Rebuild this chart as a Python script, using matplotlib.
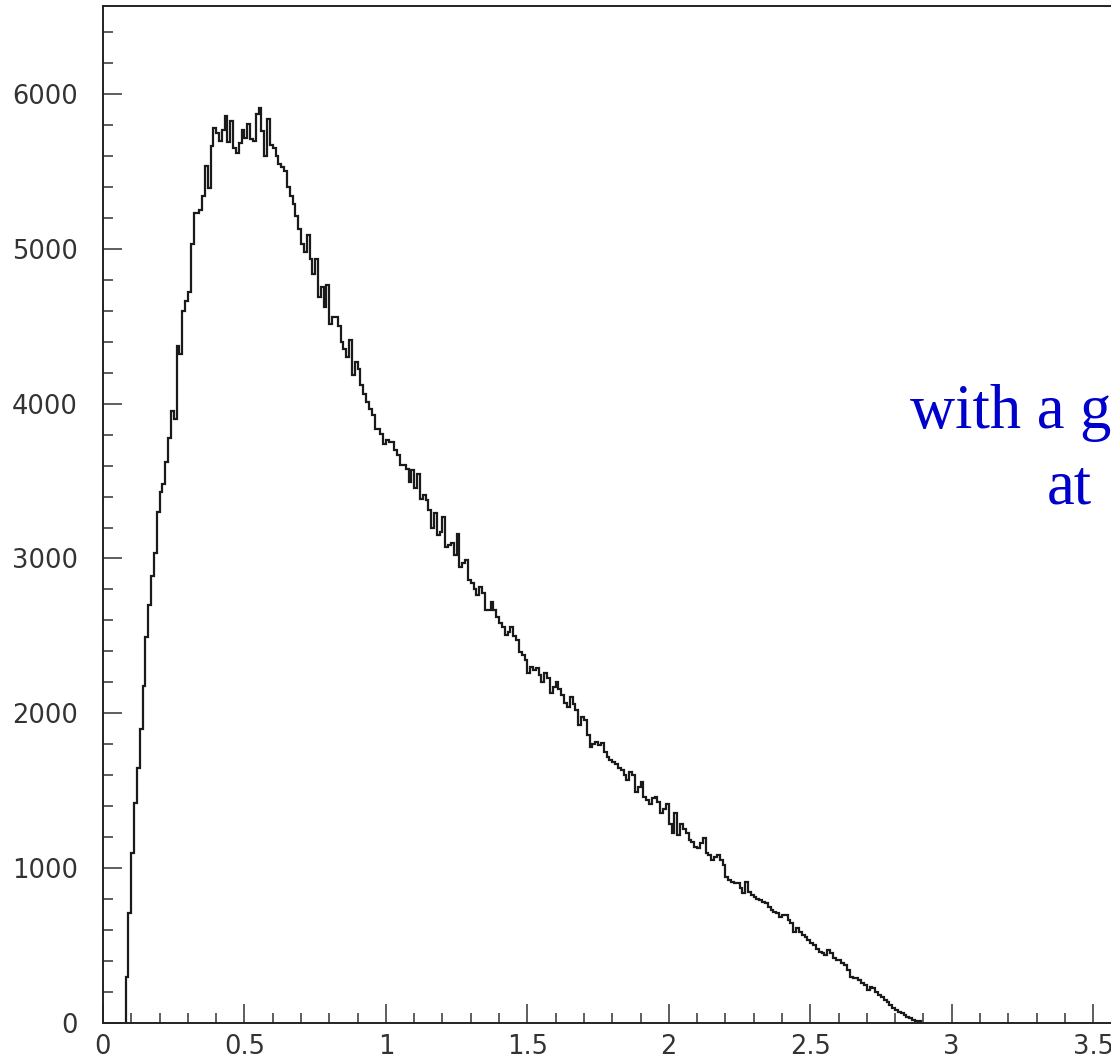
import matplotlib

matplotlib.use("Agg")
import matplotlib.pyplot as plt
import numpy as np
from matplotlib.ticker import MultipleLocator

# histogram: bins of width 0.01 starting at 0.08
bin_lo = 0.08
bin_width = 0.01
counts = [
    300, 713, 1100, 1418, 1650, 1900, 2175, 2490, 2700, 2890,
    3036, 3300, 3430, 3480, 3620, 3780, 3950, 3900, 4370, 4320,
    4600, 4665, 4720, 5030, 5230, 5230, 5250, 5340, 5535, 5395,
    5665, 5783, 5750, 5697, 5770, 5858, 5690, 5827, 5654, 5621,
    5680, 5770, 5718, 5806, 5710, 5697, 5870, 5912, 5761, 5600,
    5836, 5670, 5654, 5600, 5548, 5525, 5505, 5400, 5342, 5290,
    5215, 5130, 5032, 4978, 5086, 4935, 4839, 4935, 4688, 4752,
    4624, 4763, 4516, 4559, 4559, 4500, 4400, 4355, 4301, 4409,
    4183, 4269, 4226, 4118, 4060, 4011, 3968, 3925, 3839, 3839,
    3806, 3742, 3763, 3753, 3753, 3699, 3667, 3602, 3602, 3581,
    3495, 3570, 3452, 3548, 3387, 3409, 3380, 3312, 3200, 3293,
    3150, 3170, 3266, 3075, 3085, 3097, 3022, 3161, 2946, 2970,
    2989, 2860, 2839, 2800, 2763, 2817, 2780, 2667, 2667, 2720,
    2667, 2620, 2581, 2559, 2505, 2527, 2559, 2500, 2473, 2398,
    2376, 2344, 2258, 2301, 2280, 2290, 2250, 2204, 2258, 2226,
    2129, 2172, 2204, 2160, 2118, 2065, 2043, 2108, 2060, 2022,
    1925, 1978, 1957, 1860, 1785, 1800, 1817, 1796, 1806, 1753,
    1720, 1699, 1688, 1670, 1650, 1632, 1600, 1568, 1622, 1600,
    1490, 1525, 1557, 1460, 1440, 1417, 1450, 1460, 1428, 1353,
    1380, 1417, 1288, 1224, 1353, 1213, 1288, 1250, 1224, 1181,
    1170, 1138, 1127, 1160, 1192, 1095, 1084, 1052, 1073, 1084,
    1050, 1019, 944, 922, 912, 901, 901, 870, 837, 912,
    848, 826, 815, 800, 794, 783, 772, 751, 729, 718,
    708, 686, 697, 697, 665, 643, 589, 611, 589, 570,
    557, 536, 514, 503, 481, 460, 449, 438, 470, 449,
    417, 406, 406, 390, 374, 342, 299, 288, 288, 277,
    260, 245, 213, 235, 224, 202, 181, 165, 150, 138,
    116, 95, 84, 70, 63, 52, 41, 30, 20, 12,
    10,
]

label_lines = ["with a g", "at"]

W, H = 1111, 1060
fig = plt.figure(figsize=(W / 100, H / 100), dpi=100)
fig.patch.set_facecolor("white")

# axes run past the right edge of the picture, as in the reference crop
x0, y_bottom, y_top = 103, 1023, 6
px_per_unit = 282.9
xmax = 4.0
ax = fig.add_axes([x0 / W, 1 - y_bottom / H, xmax * px_per_unit / W, (y_bottom - y_top) / H])

edges = bin_lo + bin_width * np.arange(len(counts) + 1)
ax.stairs(counts, edges, color="#1a1a1a", lw=1.6)

ax.set_xlim(0, xmax)
ax.set_ylim(0, 6568)

ax.xaxis.set_major_locator(MultipleLocator(0.5))
ax.xaxis.set_minor_locator(MultipleLocator(0.1))
ax.yaxis.set_major_locator(MultipleLocator(1000))
ax.yaxis.set_minor_locator(MultipleLocator(200))
ax.xaxis.set_major_formatter(matplotlib.ticker.FuncFormatter(lambda v, p: f"{v:g}"))

for side in ["left", "bottom", "top", "right"]:
    ax.spines[side].set_color("#222222")
    ax.spines[side].set_linewidth(1.4)

ax.tick_params(which="both", direction="in", color="#333333", width=1.1, labelcolor="#333333", labelsize=18.5)
ax.tick_params(which="major", length=13.5)
ax.tick_params(which="minor", length=7)
ax.tick_params(axis="y", which="major", pad=18)
ax.tick_params(axis="x", which="major", pad=8)

ax.text(910 / W, 1 - 428 / H, label_lines[0], transform=fig.transFigure, color="#0000cc",
        fontsize=45, family="Liberation Serif", ha="left", va="baseline")
ax.text(1047 / W, 1 - 503 / H, label_lines[1], transform=fig.transFigure, color="#0000cc",
        fontsize=45, family="Liberation Serif", ha="left", va="baseline")

fig.savefig("out.png", dpi=100)
